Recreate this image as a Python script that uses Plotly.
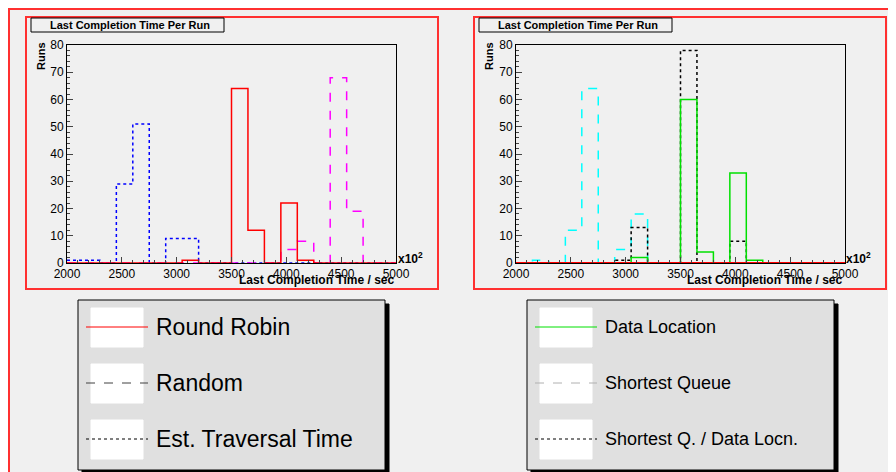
import numpy as np
import plotly.graph_objects as go

edges = [2000 + 150 * i for i in range(21)]
round_robin = [0,0,0,0,0,0,0,1,0,0,64,12,0,22,1,0,0,0,0,0]
random_ = [0,0,0,0,0,0,0,0,0,0,0,0,0,5,8,0,68,19,0,0]
est_trav = [1,1,0,29,51,0,9,9,0,0,0,0,0,0,0,0,0,0,0,0]
data_loc = [0,0,0,0,0,0,0,2,0,0,60,4,0,33,1,0,0,0,0,0]
short_q = [0,1,0,12,64,0,5,18,0,0,0,0,0,0,0,0,0,0,0,0]
short_qd = [0,0,0,0,0,0,1,13,0,0,78,0,0,8,0,0,0,0,0,0]
zeros = [0] * 20

W, H = 896, 472
def px(x): return x / W
def py(y): return 1 - y / H

fig = go.Figure()
def step(vals, color, dash, xa, ya, width=1.5):
    x = edges
    y = list(vals) + [vals[-1]]
    fig.add_trace(go.Scatter(x=x, y=y, mode="lines", line=dict(color=color, dash=dash, width=width, shape="hv"),
                             xaxis=xa, yaxis=ya, showlegend=False, hoverinfo="skip"))
    fig.add_trace(go.Scatter(x=[edges[-1], edges[-1]], y=[vals[-1], 0], mode="lines",
                             line=dict(color=color, dash=dash, width=width), xaxis=xa, yaxis=ya,
                             showlegend=False, hoverinfo="skip"))

step(est_trav, "blue", "dot", "x", "y")
step(random_, "magenta", "dash", "x", "y")
step(round_robin, "red", "solid", "x", "y")
step(short_q, "cyan", "dash", "x2", "y2")
step(short_qd, "black", "dot", "x2", "y2")
step(data_loc, "#00e000", "solid", "x2", "y2")
step(zeros, "red", "solid", "x2", "y2", 2)

ydom = [py(255), py(37)]
axfont = dict(family="Liberation Sans", size=12, color="black")
def xaxis(dom, anchor):
    return dict(domain=dom, anchor=anchor, range=[2000, 5000], tickvals=list(range(2000, 5001, 500)),
                ticks="inside", ticklen=6, showgrid=False, zeroline=False, showline=True, linecolor="black",
                mirror=True, tickfont=axfont, automargin=False, minor=dict(ticks="inside", ticklen=3, dtick=100))
def yaxis(anchor):
    return dict(domain=ydom, anchor=anchor, range=[0, 80], tickvals=list(range(0, 81, 10)),
                ticks="inside", ticklen=6, showgrid=False, zeroline=False, showline=True, linecolor="black",
                mirror=True, tickfont=axfont, automargin=False, minor=dict(ticks="inside", ticklen=3, dtick=2))

fig.update_layout(
    width=W, height=H, margin=dict(l=0, r=0, t=0, b=0, autoexpand=False),
    paper_bgcolor="#f0f0f0", plot_bgcolor="white",
    xaxis=xaxis([px(59), px(388)], "y"), yaxis=yaxis("x"),
    xaxis2=xaxis([px(508), px(837)], "y2"), yaxis2=yaxis("x2"),
)

shapes, ann = [], []
def rect(x0, y0, x1, y1, fill=None, line="black", w=1):
    shapes.append(dict(type="rect", xref="paper", yref="paper", x0=px(x0), x1=px(x1), y0=py(y1), y1=py(y0),
                       fillcolor=fill, line=dict(color=line, width=w), layer="below"))
def text(x, y, s, size, anchor="left", bold=False, angle=0):
    ann.append(dict(xref="paper", yref="paper", x=px(x), y=py(y), text=("<b>%s</b>" % s) if bold else s,
                    showarrow=False, xanchor=anchor, yanchor="middle", textangle=angle,
                    font=dict(family="Liberation Sans", size=size, color="black")))

rect(1, 1, 895, 471, None, "#ff3030", 2)
for ox in (0, 448):
    rect(18 + ox, 9 + 0, 430 + ox, 281, "#f0f0f0", "#ff3030", 2)
    rect(23 + ox, 10, 216 + ox, 24, "#f0f0f0", "black", 1)
    text(40 + ox, 17, "Last Completion Time Per Run", 11, bold=True)
    text(33 + ox, 48, "Runs", 11, "center", True, -90)
    text(388 + ox, 250, "x10<sup>2</sup>", 12, "left", True)
    text(388 + ox, 272, "Last Completion Time / sec", 12, "right", True)

legends = [
    (70, [("Round Robin", "red", "solid"), ("Random", "#404040", "dash"), ("Est. Traversal Time", "black", "dot")], 23),
    (519, [("Data Location", "#00e000", "solid"), ("Shortest Queue", "#b0b0b0", "dash"), ("Shortest Q. / Data Locn.", "black", "dot")], 18),
]
for x0, items, fs in legends:
    rect(x0 + 4, 296, x0 + 311, 466, "black", "black")
    rect(x0, 292, x0 + 307, 462, "#e0e0e0", "black")
    for i, (lab, col, dash) in enumerate(items):
        yc = 319 + i * 56
        rect(x0 + 13, yc - 19, x0 + 65, yc + 20, "white", "white")
        shapes.append(dict(type="line", xref="paper", yref="paper", x0=px(x0 + 8), x1=px(x0 + 70),
                           y0=py(yc), y1=py(yc), line=dict(color=col, dash=dash, width=1)))
        text(x0 + 76, yc, lab, fs)

fig.update_layout(shapes=shapes, annotations=ann)
fig.write_html("out.html")
